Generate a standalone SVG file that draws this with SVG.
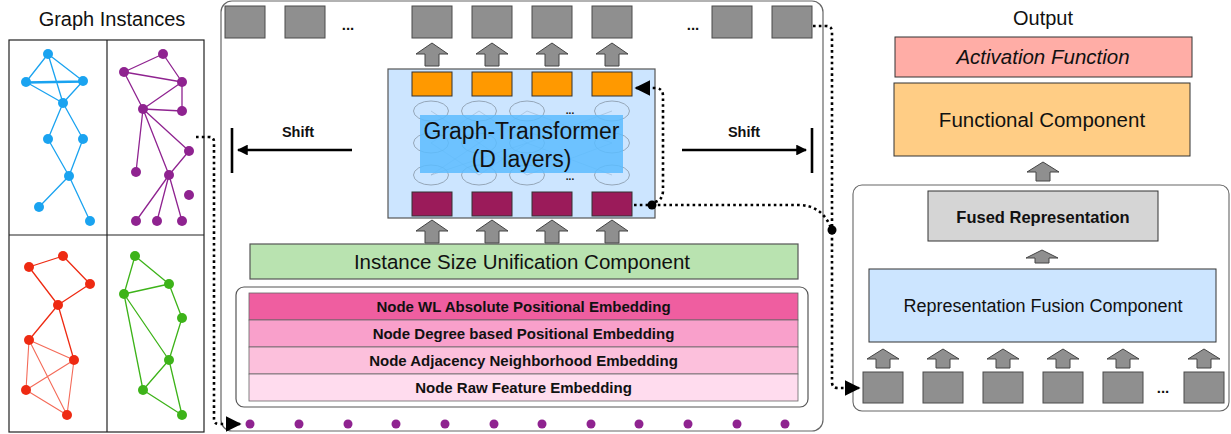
<svg xmlns="http://www.w3.org/2000/svg" xmlns:xlink="http://www.w3.org/1999/xlink" width="1231" height="434" viewBox="0 0 1231 434">
<style>
text{font-family:"Liberation Sans",Arial,Helvetica,sans-serif;fill:#111}
.gsq{fill:#8f8f8f;stroke:#4a4a4a;stroke-width:1}
.blk{fill:#8f8f8f;stroke:#444;stroke-width:1}
.dot{fill:none;stroke:#000;stroke-width:2.6;stroke-dasharray:2.6 3.2}
.ell{fill:none;stroke:#8f9fb0;stroke-width:0.9}
.fl{stroke:#8fa9c4;stroke-width:0.7;opacity:0.7}
.bl{stroke:#1aa3f0;stroke-width:1.3;fill:none}
.bn{fill:#1aa3f0}
.pl{stroke:#8f2390;stroke-width:1.3;fill:none}
.pn{fill:#8f2390}
.rl{stroke:#ee2a12;stroke-width:1.3;fill:none}
.rl2{stroke:#f46a58;stroke-width:1.1;fill:none}
.rn{fill:#ee2a12}
.gl{stroke:#3db319;stroke-width:1.3;fill:none}
.gn{fill:#3db319}
.emb{font-weight:bold;font-size:15px}
</style>
<defs>
<path id="ua" d="M0,0 L16,11 L7,11 L7,23 L-7,23 L-7,11 L-16,11 Z"/>
<path id="ub" d="M0,0 L16,10 L7,10 L7,19 L-7,19 L-7,10 L-16,10 Z"/>
<path id="uc" d="M0,0 L16,8 L7,8 L7,13 L-7,13 L-7,8 L-16,8 Z"/>
<marker id="ah" viewBox="0 0 10 10" refX="9" refY="5" markerWidth="4.5" markerHeight="4.5" orient="auto" markerUnits="strokeWidth"><path d="M0,0 L10,5 L0,10 Z" fill="#000"/></marker>
<marker id="ah2" viewBox="0 0 10 10" refX="9" refY="5" markerWidth="6" markerHeight="6" orient="auto" markerUnits="strokeWidth"><path d="M0,0 L10,5 L0,10 Z" fill="#000"/></marker>
</defs>

<!-- Graph instances -->
<g id="graph-instances">
<text x="112" y="26" font-size="20" text-anchor="middle">Graph Instances</text>
<rect x="9" y="40" width="195" height="392" fill="#fff" stroke="#222" stroke-width="1.2"/>
<line x1="107" y1="40" x2="107" y2="432" stroke="#222" stroke-width="1.2"/>
<line x1="9" y1="235" x2="204" y2="235" stroke="#222" stroke-width="1.2"/>
<g id="graph-blue">
<path class="bl" d="M48,54 L26,82 M48,54 L83,81 M48,54 L63,103 M26,82 L83,81 M26,83 L83,82 M26,82 L63,103 M83,81 L63,103 M63,103 L48,139 M63,103 L83,139 M48,139 L69,176 M83,139 L69,176 M69,176 L39,207 M69,176 L90,221"/>
<circle class="bn" cx="48" cy="54" r="5"/><circle class="bn" cx="26" cy="82" r="5"/><circle class="bn" cx="83" cy="81" r="5"/><circle class="bn" cx="63" cy="103" r="5"/><circle class="bn" cx="48" cy="139" r="5"/><circle class="bn" cx="83" cy="139" r="5"/><circle class="bn" cx="69" cy="176" r="5"/><circle class="bn" cx="39" cy="207" r="5"/><circle class="bn" cx="90" cy="221" r="5"/>
</g>
<g id="graph-purple">
<path class="pl" d="M163,54 L124,72 M163,54 L182,82 M124,72 L182,82 M124,72 L143,109 M182,82 L143,109 M182,82 L182,111 M143,109 L182,111 M143,109 L136,172 M143,109 L189,151 M143,109 L169,175 M189,151 L169,175 M169,175 L136,221 M169,175 L157,221 M169,175 L182,221"/>
<circle class="pn" cx="163" cy="54" r="5"/><circle class="pn" cx="124" cy="72" r="5"/><circle class="pn" cx="182" cy="82" r="5"/><circle class="pn" cx="143" cy="109" r="5"/><circle class="pn" cx="182" cy="111" r="5"/><circle class="pn" cx="189" cy="151" r="5"/><circle class="pn" cx="136" cy="172" r="5"/><circle class="pn" cx="169" cy="175" r="5"/><circle class="pn" cx="189" cy="195" r="5"/><circle class="pn" cx="136" cy="221" r="5"/><circle class="pn" cx="157" cy="221" r="5"/><circle class="pn" cx="182" cy="221" r="5"/>
</g>
<g id="graph-red">
<path class="rl" d="M63,256 L29,267 M63,256 L90,284 M29,267 L58,305 M90,284 L58,305 M58,305 L29,340 M58,305 L74,360"/>
<path class="rl2" d="M29,340 L74,360 M29,340 L26,390 M29,340 L67,415 M74,360 L26,390 M74,360 L67,415 M26,390 L67,415"/>
<circle class="rn" cx="63" cy="256" r="5"/><circle class="rn" cx="29" cy="267" r="5"/><circle class="rn" cx="90" cy="284" r="5"/><circle class="rn" cx="58" cy="305" r="5"/><circle class="rn" cx="29" cy="340" r="5"/><circle class="rn" cx="74" cy="360" r="5"/><circle class="rn" cx="26" cy="390" r="5"/><circle class="rn" cx="67" cy="415" r="5"/>
</g>
<g id="graph-green">
<path class="gl" d="M135,256 L169,284 M135,256 L124,294 M124,294 L169,284 M169,284 L182,318 M124,294 L169,360 M124,294 L143,390 M182,318 L169,360 M169,360 L143,390 M169,360 L182,415 M143,390 L182,415"/>
<circle class="gn" cx="135" cy="256" r="5"/><circle class="gn" cx="169" cy="284" r="5"/><circle class="gn" cx="124" cy="294" r="5"/><circle class="gn" cx="182" cy="318" r="5"/><circle class="gn" cx="169" cy="360" r="5"/><circle class="gn" cx="143" cy="390" r="5"/><circle class="gn" cx="182" cy="415" r="5"/>
</g>
</g>

<!-- Main panel -->
<g id="main-panel">
<rect x="221" y="1" width="602" height="430" rx="11" fill="#fff" stroke="#666" stroke-width="1.2"/>
</g>

<g id="top-outputs">
<rect class="gsq" x="225" y="6" width="40" height="32"/>
<rect class="gsq" x="285" y="6" width="40" height="32"/>
<text x="348" y="30" font-size="15" font-weight="bold" text-anchor="middle">...</text>
<rect class="gsq" x="412" y="6" width="40" height="32"/>
<rect class="gsq" x="472" y="6" width="40" height="32"/>
<rect class="gsq" x="532" y="6" width="40" height="32"/>
<rect class="gsq" x="592" y="6" width="40" height="32"/>
<text x="693" y="30" font-size="15" font-weight="bold" text-anchor="middle">...</text>
<rect class="gsq" x="712" y="6" width="40" height="32"/>
<rect class="gsq" x="772" y="6" width="40" height="32"/>
</g>

<g id="top-arrows">
<use xlink:href="#ua" href="#ua" class="blk" x="432" y="43"/>
<use xlink:href="#ua" href="#ua" class="blk" x="492" y="43"/>
<use xlink:href="#ua" href="#ua" class="blk" x="552" y="43"/>
<use xlink:href="#ua" href="#ua" class="blk" x="612" y="43"/>
</g>

<g id="graph-transformer">
<rect x="388" y="69" width="267" height="149" fill="#cce5ff" stroke="#555" stroke-width="1.2"/>
<g>
<line class="fl" x1="431" y1="175" x2="479" y2="143"/><line class="fl" x1="479" y1="175" x2="431" y2="143"/><line class="fl" x1="479" y1="175" x2="527" y2="143"/><line class="fl" x1="527" y1="175" x2="479" y2="143"/><line class="fl" x1="431" y1="175" x2="527" y2="143"/><line class="fl" x1="527" y1="175" x2="612" y2="143"/><line class="fl" x1="612" y1="175" x2="527" y2="143"/>
<line class="fl" x1="431" y1="143" x2="479" y2="111"/><line class="fl" x1="479" y1="143" x2="431" y2="111"/><line class="fl" x1="479" y1="143" x2="527" y2="111"/><line class="fl" x1="527" y1="143" x2="479" y2="111"/><line class="fl" x1="527" y1="143" x2="612" y2="111"/><line class="fl" x1="612" y1="143" x2="527" y2="111"/>
</g>
<ellipse class="ell" cx="431" cy="111" rx="17.5" ry="10"/><ellipse class="ell" cx="479" cy="111" rx="17.5" ry="10"/><ellipse class="ell" cx="527" cy="111" rx="17.5" ry="10"/><ellipse class="ell" cx="612" cy="111" rx="17.5" ry="10"/>
<ellipse class="ell" cx="431" cy="143" rx="17.5" ry="10"/><ellipse class="ell" cx="479" cy="143" rx="17.5" ry="10"/><ellipse class="ell" cx="527" cy="143" rx="17.5" ry="10"/><ellipse class="ell" cx="612" cy="143" rx="17.5" ry="10"/>
<ellipse class="ell" cx="431" cy="175" rx="17.5" ry="10"/><ellipse class="ell" cx="479" cy="175" rx="17.5" ry="10"/><ellipse class="ell" cx="527" cy="175" rx="17.5" ry="10"/><ellipse class="ell" cx="612" cy="175" rx="17.5" ry="10"/>
<text x="570" y="114" font-size="10" font-weight="bold" text-anchor="middle">...</text>
<text x="570" y="180" font-size="10" font-weight="bold" text-anchor="middle">...</text>
<rect x="420" y="115" width="203" height="58" fill="#5cbcff" opacity="0.85"/>
<text x="521.5" y="139" font-size="23" text-anchor="middle">Graph-Transformer</text>
<text x="521.5" y="167" font-size="23" text-anchor="middle">(D layers)</text>
<rect x="412" y="72" width="40" height="24" fill="#ff9900" stroke="#333"/>
<rect x="472" y="72" width="40" height="24" fill="#ff9900" stroke="#333"/>
<rect x="532" y="72" width="40" height="24" fill="#ff9900" stroke="#333"/>
<rect x="592" y="72" width="40" height="24" fill="#ff9900" stroke="#333"/>
<rect x="412" y="192" width="40" height="24" fill="#9b1b5a" stroke="#333"/>
<rect x="472" y="192" width="40" height="24" fill="#9b1b5a" stroke="#333"/>
<rect x="532" y="192" width="40" height="24" fill="#9b1b5a" stroke="#333"/>
<rect x="592" y="192" width="40" height="24" fill="#9b1b5a" stroke="#333"/>
</g>

<g id="shift-left">
<text x="298" y="137" font-size="14.5" font-weight="bold" text-anchor="middle">Shift</text>
<line x1="352" y1="150" x2="238" y2="150" stroke="#000" stroke-width="2.4" marker-end="url(#ah)"/>
<line x1="232" y1="128" x2="232" y2="173" stroke="#000" stroke-width="2.6"/>
</g>
<g id="shift-right">
<text x="744" y="137" font-size="14.5" font-weight="bold" text-anchor="middle">Shift</text>
<line x1="682" y1="150" x2="806" y2="150" stroke="#000" stroke-width="2.4" marker-end="url(#ah)"/>
<line x1="812" y1="128" x2="812" y2="173" stroke="#000" stroke-width="2.6"/>
</g>

<g id="bottom-arrows">
<use xlink:href="#ua" href="#ua" class="blk" x="432" y="220"/>
<use xlink:href="#ua" href="#ua" class="blk" x="492" y="220"/>
<use xlink:href="#ua" href="#ua" class="blk" x="552" y="220"/>
<use xlink:href="#ua" href="#ua" class="blk" x="612" y="220"/>
</g>

<g id="instance-size-unification">
<rect x="250" y="244" width="548" height="35" fill="#b9e3b0" stroke="#555" stroke-width="1.2"/>
<text x="522" y="269" font-size="20.5" text-anchor="middle">Instance Size Unification Component</text>
</g>

<g id="embeddings">
<rect x="236" y="287" width="572" height="120" rx="8" fill="#fff" stroke="#555" stroke-width="1.2"/>
<rect x="249" y="293" width="549" height="27" fill="#ef5ea0" stroke="#666" stroke-width="0.8"/>
<rect x="249" y="320" width="549" height="27" fill="#f9a0cb" stroke="#666" stroke-width="0.8"/>
<rect x="249" y="347" width="549" height="27" fill="#fcc0dc" stroke="#666" stroke-width="0.8"/>
<rect x="249" y="374" width="549" height="27" fill="#ffdcee" stroke="#666" stroke-width="0.8"/>
<text class="emb" x="523.5" y="312" text-anchor="middle">Node WL Absolute Positional Embedding</text>
<text class="emb" x="523.5" y="339" text-anchor="middle">Node Degree based Positional Embedding</text>
<text class="emb" x="523.5" y="366" text-anchor="middle">Node Adjacency Neighborhood Embedding</text>
<text class="emb" x="523.5" y="393" text-anchor="middle">Node Raw Feature Embedding</text>
</g>

<g id="input-nodes" fill="#8f2390">
<circle cx="250" cy="424" r="4.5"/><circle cx="299" cy="424" r="4.5"/><circle cx="348" cy="424" r="4.5"/><circle cx="396" cy="424" r="4.5"/><circle cx="445" cy="424" r="4.5"/><circle cx="494" cy="424" r="4.5"/><circle cx="542" cy="424" r="4.5"/><circle cx="591" cy="424" r="4.5"/><circle cx="639" cy="424" r="4.5"/><circle cx="688" cy="424" r="4.5"/><circle cx="737" cy="424" r="4.5"/><circle cx="785" cy="424" r="4.5"/>
</g>

<!-- Right side -->
<g id="output-label"><text x="1043" y="25" font-size="20" text-anchor="middle">Output</text></g>
<g id="activation-function">
<rect x="895" y="37" width="297" height="40" fill="#ffada6" stroke="#333" stroke-width="1"/>
<text x="1043" y="64" font-size="20.5" font-style="italic" text-anchor="middle">Activation Function</text>
</g>
<g id="functional-component">
<rect x="894" y="83" width="296" height="73" fill="#ffcd85" stroke="#333" stroke-width="1"/>
<text x="1042" y="127" font-size="20.5" text-anchor="middle">Functional Component</text>
</g>
<use xlink:href="#ub" href="#ub" class="blk" x="1043" y="162"/>
<g id="fusion-panel">
<rect x="853" y="185" width="376" height="226" rx="9" fill="#fff" stroke="#666" stroke-width="1.1"/>
</g>
<g id="fused-representation">
<rect x="928" y="191" width="230" height="50" fill="#d5d5d5" stroke="#333" stroke-width="1"/>
<text x="1043" y="222.5" font-size="16.5" font-weight="bold" text-anchor="middle">Fused Representation</text>
</g>
<use xlink:href="#uc" href="#uc" class="blk" x="1042" y="250"/>
<g id="representation-fusion">
<rect x="869" y="269" width="347" height="73" fill="#cce5ff" stroke="#333" stroke-width="1"/>
<text x="1043" y="312" font-size="18" text-anchor="middle">Representation Fusion Component</text>
</g>
<g id="fusion-arrows">
<use xlink:href="#ub" href="#ub" class="blk" x="883" y="349"/>
<use xlink:href="#ub" href="#ub" class="blk" x="943" y="349"/>
<use xlink:href="#ub" href="#ub" class="blk" x="1003" y="349"/>
<use xlink:href="#ub" href="#ub" class="blk" x="1063" y="349"/>
<use xlink:href="#ub" href="#ub" class="blk" x="1123" y="349"/>
<use xlink:href="#ub" href="#ub" class="blk" x="1204" y="349"/>
</g>
<g id="fusion-inputs">
<rect class="gsq" x="863" y="372" width="40" height="31"/>
<rect class="gsq" x="923" y="372" width="40" height="31"/>
<rect class="gsq" x="983" y="372" width="40" height="31"/>
<rect class="gsq" x="1043" y="372" width="40" height="31"/>
<rect class="gsq" x="1103" y="372" width="40" height="31"/>
<text x="1163" y="393" font-size="15" font-weight="bold" text-anchor="middle">...</text>
<rect class="gsq" x="1184" y="372" width="40" height="31"/>
</g>

<!-- Connectors -->
<g id="connectors">
<path class="dot" d="M196,137 L209,137 Q214,137 214,142 L214,419 Q214,424 219,424 L240,424" marker-end="url(#ah2)"/>
<path class="dot" d="M634,205 L652,205"/>
<path class="dot" d="M655,202 Q663,200 663,190 L663,96 Q663,88 655,88 L636,88" marker-end="url(#ah2)"/>
<path class="dot" d="M652,205 L798,205 Q822,205 831,228"/>
<path class="dot" d="M813,26 L826,26 Q832,26 832,32 L832,228"/>
<path class="dot" d="M832,232 L832,382 Q832,388 838,388 L859,388" marker-end="url(#ah2)"/>
<circle cx="652" cy="205" r="4.5" fill="#000"/>
<circle cx="832" cy="230" r="4.5" fill="#000"/>
</g>
</svg>
